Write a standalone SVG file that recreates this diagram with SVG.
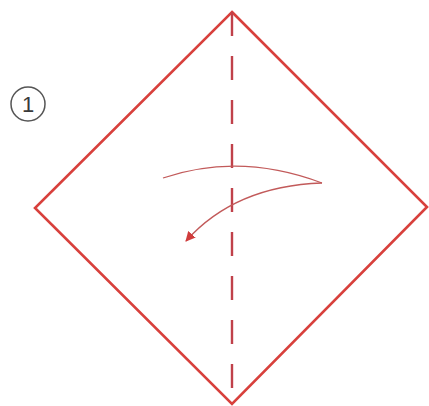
<svg xmlns="http://www.w3.org/2000/svg" width="429" height="406" viewBox="0 0 429 406">
<style>
.edge{fill:none;stroke:#d8403c;stroke-width:2.6;stroke-linejoin:miter}
.valley{fill:none;stroke:#c0414a;stroke-width:2.4;stroke-dasharray:24 20}
.arrow{fill:none;stroke:#c25a5a;stroke-width:1.3}
.num{font-family:"Liberation Sans",Arial,sans-serif;font-size:22px;fill:#3a3a3a}
</style>
<defs>
<marker id="head" viewBox="0 0 10 10" refX="9" refY="5" markerWidth="10" markerHeight="10" markerUnits="userSpaceOnUse" orient="auto">
<path d="M0,0 L10,5 L0,10 Z" fill="#d03c3c"/>
</marker>
</defs>
<rect width="429" height="406" fill="#ffffff"/>
<g id="step-number">
<circle cx="28" cy="104" r="17" fill="none" stroke="#555" stroke-width="1.5"/>
<text class="num" x="28" y="112" text-anchor="middle">1</text>
</g>
<g id="paper">
<polygon class="edge" points="232,12 427,207 232,404 35,208"/>
</g>
<g id="fold-line">
<line class="valley" x1="232" y1="12" x2="232" y2="404"/>
</g>
<g id="connectors">
<path class="arrow" d="M163,178 Q240,152 322,183"/>
<path class="arrow" d="M322,183 Q235,186 186,241" marker-end="url(#head)"/>
</g>
</svg>
